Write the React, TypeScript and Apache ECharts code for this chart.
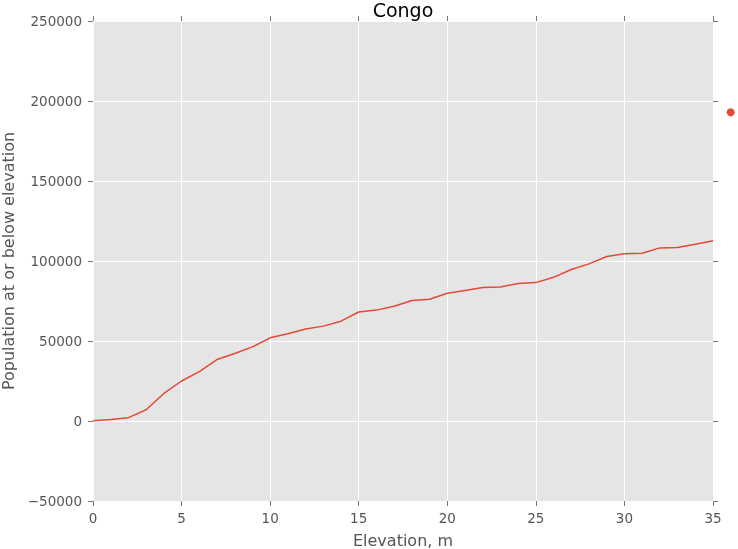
import { useEffect, useRef } from "react";
import * as echarts from "echarts";

// elevation in metres, one step per metre
const elevations = [
  0, 1, 2, 3, 4, 5, 6, 7, 8, 9, 10, 11, 12, 13, 14, 15, 16, 17,
  18, 19, 20, 21, 22, 23, 24, 25, 26, 27, 28, 29, 30, 31, 32, 33, 34, 35,
];

// cumulative population at or below each elevation
const population = [
  200, 900, 2100, 7000, 17200, 25000, 30900, 38400, 42200, 46300, 52000,
  54500, 57500, 59300, 62400, 68100, 69300, 71700, 75300, 76100, 79800,
  81600, 83400, 83800, 85900, 86500, 89800, 94700, 98200, 102800, 104500,
  104900, 108200, 108400, 110500, 112600,
];

// lone marker drawn past the right edge of the axes
const outlierX = [36];
const outlierY = [193000];

const xTicks = { min: 0, max: 35, interval: 5 };
const yTicks = { min: -50000, max: 250000, interval: 50000 };

const RED = "#E24A33";
const GREY = "#555555";
const FONT = "DejaVu Sans";

export default function App() {
  const chartRef = useRef<HTMLDivElement>(null);

  useEffect(() => {
    if (!chartRef.current) return;
    const chart = echarts.init(chartRef.current, null, { renderer: "svg" });

    const tick = { show: true, length: 5, lineStyle: { color: "#777", width: 1 } };
    const noLine = { show: false, onZero: false };
    const hidden = { show: false };

    chart.setOption({
      animation: false,
      textStyle: { fontFamily: FONT },
      title: {
        text: "Congo",
        left: 403,
        top: 0,
        padding: 0,
        textAlign: "center",
        textStyle: {
          fontFamily: FONT,
          fontSize: 19,
          lineHeight: 19,
          fontWeight: "normal",
          color: "#000",
        },
      },
      grid: {
        left: 93,
        top: 21,
        right: 25,
        bottom: 48,
        outerBoundsMode: "none",
        containLabel: false,
        show: true,
        backgroundColor: "#E5E5E5",
        borderWidth: 0,
      },
      xAxis: [
        {
          type: "value",
          ...xTicks,
          position: "bottom",
          name: "Elevation, m",
          nameLocation: "middle",
          nameGap: 31,
          nameTextStyle: { fontFamily: FONT, fontSize: 16, color: GREY },
          axisLine: noLine,
          axisTick: tick,
          axisLabel: { fontFamily: FONT, fontSize: 13.5, color: GREY, margin: 10 },
          splitLine: { show: true, lineStyle: { color: "#fff", width: 1 } },
        },
        {
          type: "value",
          ...xTicks,
          position: "top",
          axisLine: noLine,
          axisTick: tick,
          axisLabel: hidden,
          splitLine: hidden,
        },
      ],
      yAxis: [
        {
          type: "value",
          ...yTicks,
          position: "left",
          name: "Population at or below elevation",
          nameLocation: "middle",
          nameGap: 76,
          nameTextStyle: { fontFamily: FONT, fontSize: 16, color: GREY },
          axisLine: noLine,
          axisTick: tick,
          axisLabel: {
            fontFamily: FONT,
            fontSize: 13.5,
            color: GREY,
            margin: 11,
            formatter: (v: number) => (v < 0 ? "\u2212" + Math.abs(v) : String(v)),
          },
          splitLine: { show: true, lineStyle: { color: "#fff", width: 1 } },
        },
        {
          type: "value",
          ...yTicks,
          position: "right",
          axisLine: noLine,
          axisTick: tick,
          axisLabel: hidden,
          splitLine: hidden,
        },
      ],
      series: [
        {
          type: "line",
          data: elevations.map((x, i) => [x, population[i]]),
          showSymbol: false,
          symbol: "none",
          lineStyle: { color: RED, width: 1.5 },
        },
        {
          type: "scatter",
          clip: false,
          data: outlierX.map((x, i) => [x, outlierY[i]]),
          symbolSize: 8,
          itemStyle: { color: RED, opacity: 1 },
        },
      ],
    });

    return () => chart.dispose();
  }, []);

  return (
    <div
      ref={chartRef}
      style={{ position: "fixed", left: 0, top: 0, width: 738, height: 549 }}
    />
  );
}
